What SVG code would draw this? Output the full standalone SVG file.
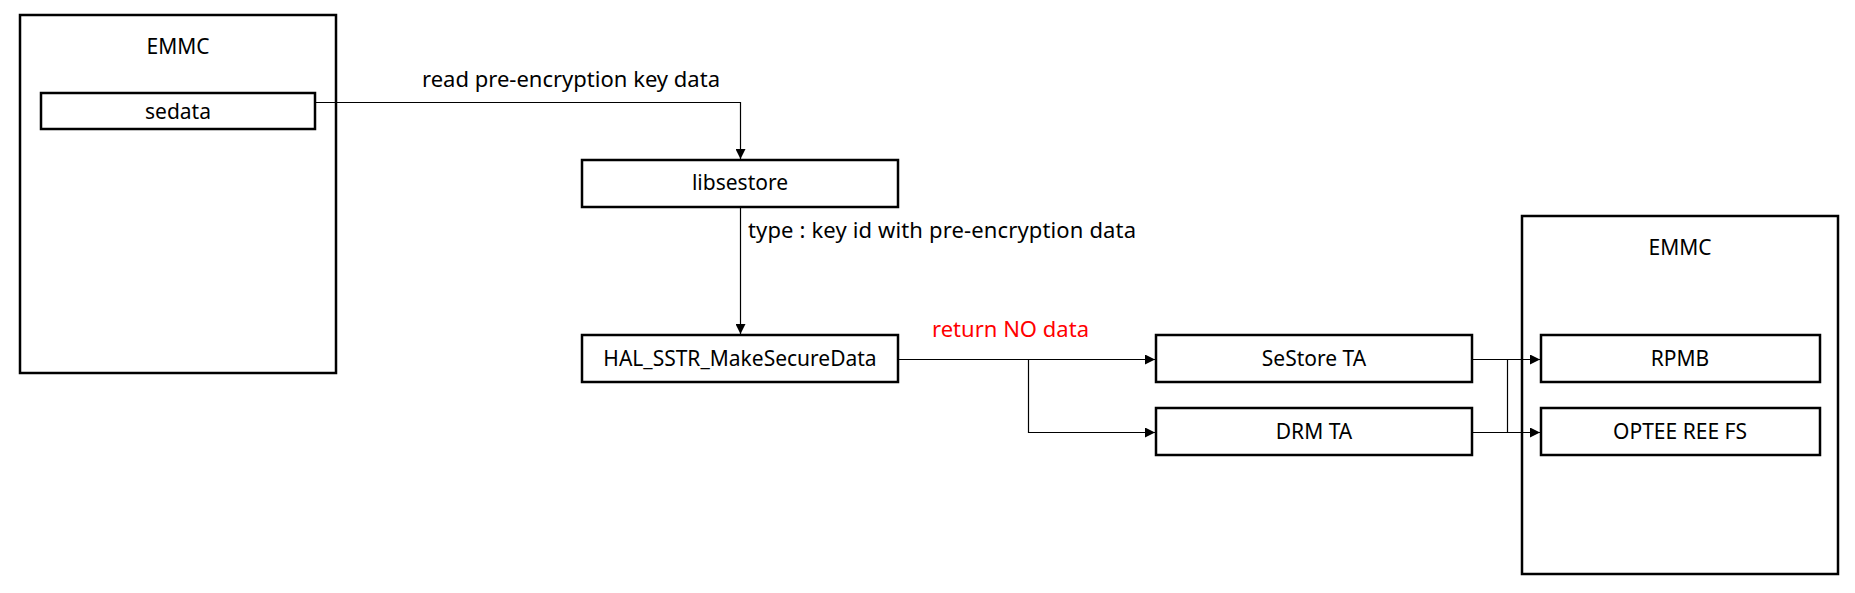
<svg xmlns="http://www.w3.org/2000/svg" width="1855" height="593" viewBox="0 0 1855 593">
<defs>
<marker id="arr" viewBox="0 0 10 10" refX="10" refY="5" markerWidth="11" markerHeight="10" markerUnits="userSpaceOnUse" orient="auto">
<path d="M0,0 L10,5 L0,10 Z" fill="#000"/>
</marker>
<style>
.box{fill:#fff;stroke:#000;stroke-width:2.5}
.t{font-family:"Noto Sans","Noto Sans CJK KR",sans-serif;font-size:21px;fill:#000;text-anchor:middle}
.lbl{font-family:"Noto Sans","Noto Sans CJK KR",sans-serif;font-size:22px;fill:#000}
.red{fill:#ff0000}
.c{fill:none;stroke:#000;stroke-width:1.2}
</style>
</defs>
<rect width="1855" height="593" fill="#fff"/>
<g id="emmc-left">
<rect class="box" x="20" y="15" width="316" height="358"/>
<text class="t" x="178" y="54">EMMC</text>
</g>
<g id="sedata">
<rect class="box" x="41" y="93" width="274" height="36"/>
<text class="t" x="178" y="119">sedata</text>
</g>
<g id="libsestore">
<rect class="box" x="582" y="160" width="316" height="47"/>
<text class="t" x="740" y="190">libsestore</text>
</g>
<g id="hal">
<rect class="box" x="582" y="335" width="316" height="47"/>
<text class="t" x="740" y="366">HAL_SSTR_MakeSecureData</text>
</g>
<g id="sestore-ta">
<rect class="box" x="1156" y="335" width="316" height="47"/>
<text class="t" x="1314" y="366">SeStore TA</text>
</g>
<g id="drm-ta">
<rect class="box" x="1156" y="408" width="316" height="47"/>
<text class="t" x="1314" y="439">DRM TA</text>
</g>
<g id="emmc-right">
<rect class="box" x="1522" y="216" width="316" height="358"/>
<text class="t" x="1680" y="255">EMMC</text>
</g>
<g id="rpmb">
<rect class="box" x="1541" y="335" width="279" height="47"/>
<text class="t" x="1680" y="366">RPMB</text>
</g>
<g id="optee">
<rect class="box" x="1541" y="408" width="279" height="47"/>
<text class="t" x="1680" y="439">OPTEE REE FS</text>
</g>
<g id="connectors">
<path class="c" d="M315,102.5 H740.5 V159" marker-end="url(#arr)"/>
<text class="lbl" x="422" y="87" textLength="298" lengthAdjust="spacing">read pre-encryption key data</text>
<path class="c" d="M740.5,207 V334" marker-end="url(#arr)"/>
<text class="lbl" x="748" y="238" textLength="388" lengthAdjust="spacing">type : key id with pre-encryption data</text>
<path class="c" d="M898,359.5 H1155" marker-end="url(#arr)"/>
<path class="c" d="M1028.5,359.5 V432.5 H1155" marker-end="url(#arr)"/>
<text class="lbl red" x="932" y="337" textLength="157" lengthAdjust="spacing">return NO data</text>
<path class="c" d="M1472,359.5 H1540" marker-end="url(#arr)"/>
<path class="c" d="M1472,432.5 H1540" marker-end="url(#arr)"/>
<path class="c" d="M1507.5,359.5 V432.5"/>
</g>
</svg>
